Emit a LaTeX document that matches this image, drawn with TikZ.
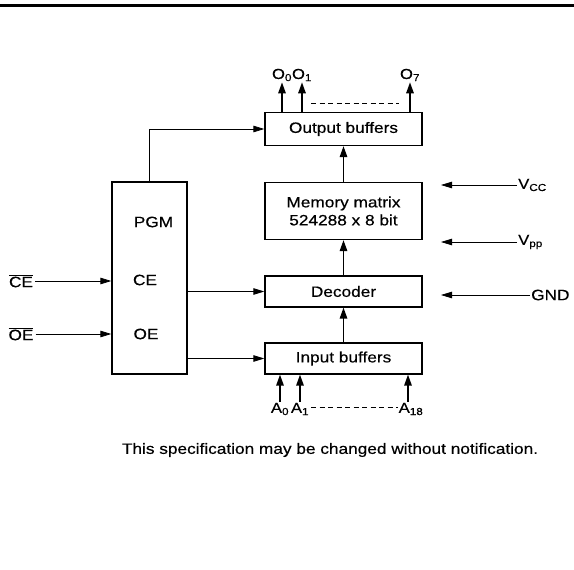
\documentclass[tikz,border=0pt]{standalone}
\usepackage{fontspec}
\setmainfont[FakeStretch=1.15, FakeBold=0.4]{Liberation Sans}
\usetikzlibrary{arrows.meta,positioning,calc}

\begin{document}
\begin{tikzpicture}[
  x=1pt, y=-1pt,
  font=\fontsize{15}{18}\selectfont,
  box/.style={draw, line width=1.3pt, align=center, inner sep=0pt,
              minimum width=157pt},
  arr/.style={-{Triangle[length=11pt, width=6.5pt]}, line width=0.8pt},
  bus/.style={-{Triangle[length=11pt, width=7.5pt]}, line width=1.5pt},
  lab/.style={inner sep=2pt},
  pin/.style={inner sep=1pt, font=\fontsize{14.5}{17}\selectfont},
  dots/.style={dash pattern=on 5pt off 3.5pt, line width=0.7pt}
]
\useasboundingbox (0,0) rectangle (574,570);
\draw[line width=2.5pt] (0,5.5) -- (574,5.5);

% ---------------- centre column ----------------
\node[box, minimum height=33pt] (outbuf) at (343.5,129) {Output buffers};
\node[box, minimum height=57pt] (mem) at (343.5,211) {Memory matrix\\524288 x 8 bit};
\node[box, minimum height=31pt] (decoder) at (343.5,291.5) {Decoder};
\node[box, minimum height=31pt] (inbuf) at (343.5,358.5) {Input buffers};

\draw[bus] (inbuf.north) -- (decoder.south);
\draw[bus] (decoder.north) -- (mem.south);
\draw[bus] (mem.north) -- (outbuf.south);

% ---------------- outputs and addresses ----------------
\node[pin] (o0) at (282,75) {O\textsubscript{0}};
\node[pin] (o1) at (302,75) {O\textsubscript{1}};
\node[pin] (o7) at (410,75) {O\textsubscript{7}};
\draw[bus] (outbuf.north -| o0) -- (o0.south);
\draw[bus] (outbuf.north -| o1) -- (o1.south);
\draw[bus] (outbuf.north -| o7) -- (o7.south);
\draw[dots] (311,103) -- (399,103);

\node[pin] (a0) at (280,409) {A\textsubscript{0}};
\node[pin] (a1) at (300,409) {A\textsubscript{1}};
\node[pin] (a18) at (411,409) {A\textsubscript{18}};
\draw[bus] (a0.north) -- (a0 |- inbuf.south);
\draw[bus] (a1.north) -- (a1 |- inbuf.south);
\draw[bus] ([xshift=-3pt]a18.north) -- ([xshift=-3pt]a18.north |- inbuf.south);
\draw[dots] (311,407) -- (398,407);

% ---------------- control block ----------------
\node[box, minimum width=75pt, minimum height=192pt] (ctrl) at (149.5,278) {};
\node (pgm) at (153.5,222) {PGM};
\node (ce) at (145,280) {CE};
\node (oe) at (146,334) {OE};

\draw[arr] (ctrl.north) |- (outbuf.west);
\draw[arr] (ctrl.east |- decoder) -- (decoder.west);
\draw[arr] (ctrl.east |- inbuf) -- (inbuf.west);

\node[lab] (cebar) at (21,281) {$\overline{\hbox{CE}}$};
\node[lab] (oebar) at (21,334) {$\overline{\hbox{OE}}$};
\draw[arr] (cebar.east) -- (cebar -| ctrl.west);
\draw[arr] (oebar.east) -- (oebar -| ctrl.west);

% ---------------- supply pins ----------------
\coordinate (pwr) at (441,0);
\node[pin, anchor=west] (vcc) at (517,185) {V\textsubscript{CC}};
\node[pin, anchor=west] (vpp) at (517,242) {V\textsubscript{pp}};
\node[lab, anchor=west, inner sep=1pt] (gnd) at (530,295) {GND};
\draw[arr] (vcc.west) -- (vcc -| pwr);
\draw[arr] (vpp.west) -- (vpp -| pwr);
\draw[arr] (gnd.west) -- (gnd -| pwr);

\node (note) at (330,450) {This specification may be changed without notification.};

\end{tikzpicture}
\end{document}
